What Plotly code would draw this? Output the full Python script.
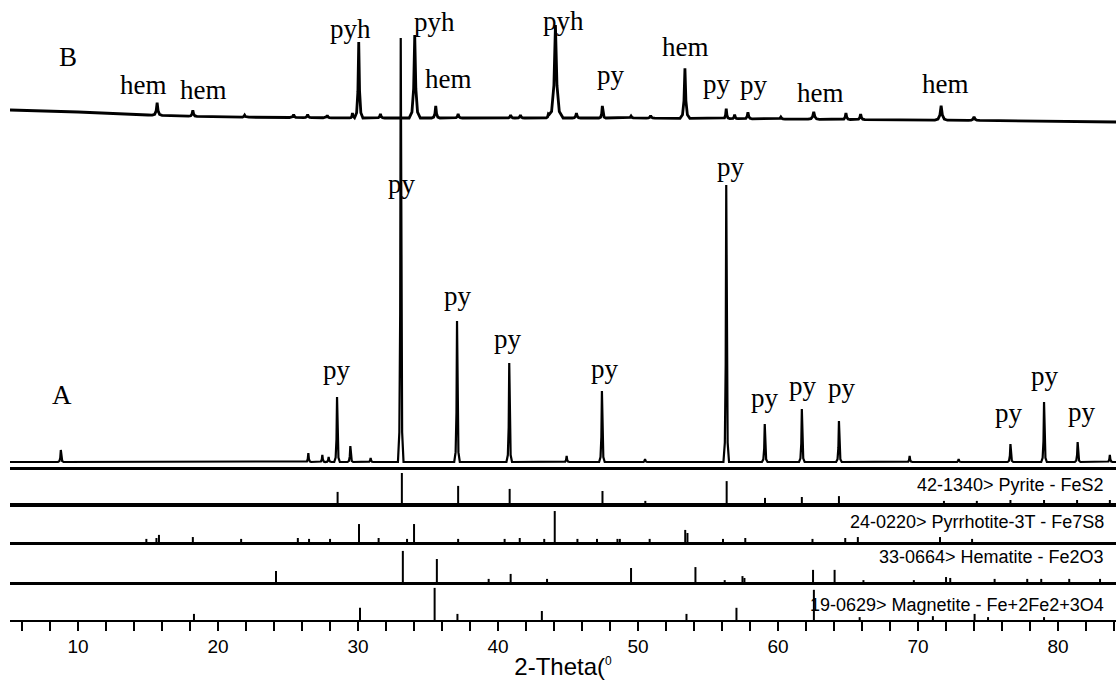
import numpy as np
import plotly.graph_objects as go

# ---------------- data ----------------
X_RANGE = [5.14, 84.14]

# Pattern A : peak positions (2-theta, deg), heights above baseline (a.u.)
A_PEAK_POS = [8.77, 26.45, 27.45, 27.9, 28.5, 29.45, 30.9, 33.05, 37.07, 40.8,
              44.9, 47.42, 50.5, 56.3, 59.05, 61.7, 64.35, 69.4, 72.9, 76.6,
              79.0, 81.4, 83.7]
A_PEAK_HEIGHT = [12, 9, 7, 5, 65, 16, 4, 424, 141, 99,
                 6, 71, 3, 277, 38, 53, 41, 6, 3, 18,
                 60, 20, 7]
A_PEAK_HALFWIDTH = [0.2] * len(A_PEAK_POS)
A_BASE_POS = [5.14, 84.14]
A_BASE_LEVEL = [5, 5]

# Pattern B : peak positions, heights above baseline (a.u.)
B_PEAK_POS = [15.65, 18.2, 21.9, 25.4, 26.4, 27.8, 29.6, 30.05, 31.6, 34.05,
              35.55, 37.15, 40.9, 41.6, 43.6, 44.1, 45.6, 47.45, 49.5, 50.9,
              53.35, 56.3, 56.9, 57.85, 60.2, 62.55, 64.85, 65.9, 71.65, 74.0]
B_PEAK_HEIGHT = [12.5, 6, 2, 3, 3, 2.5, 5, 76, 4, 83,
                 12, 4, 3, 3, 3, 93, 5, 12, 2, 2.5,
                 50, 10, 4, 6.5, 2, 7.5, 6.5, 5.5, 14.5, 3.5]
B_PEAK_HALFWIDTH = [0.35, 0.3, 0.3, 0.3, 0.3, 0.3, 0.2, 0.3, 0.3, 0.4,
                    0.3, 0.3, 0.3, 0.3, 0.3, 0.55, 0.3, 0.25, 0.3, 0.3,
                    0.35, 0.25, 0.25, 0.3, 0.3, 0.4, 0.3, 0.3, 0.45, 0.4]
B_BASE_POS = [5.14, 10, 15, 20, 30, 40, 50, 60, 70, 80, 84.14]
B_BASE_LEVEL = [357, 355, 352, 350, 349, 349, 349, 348, 347, 346, 345]

# Reference stick patterns (2-theta, relative intensity)
PYRITE_POS = [28.54, 33.13, 37.15, 40.83, 47.46, 50.52, 56.33, 59.07, 61.7,
              64.35, 71.85, 74.2, 76.6, 79.0, 81.36, 83.7]
PYRITE_INT = [37, 100, 57, 47, 40, 7, 73, 17, 20, 23, 7, 7, 10, 10, 10, 10]

PYRRHOTITE_POS = [14.88, 15.6, 15.78, 18.2, 21.65, 25.7, 26.5, 28.0, 30.07,
                  31.47, 33.5, 34.0, 37.15, 40.47, 41.55, 43.3, 44.05, 45.67,
                  47.07, 48.53, 48.7, 50.83, 53.37, 53.53, 56.07, 57.66,
                  62.46, 64.8, 65.7, 71.57, 73.86]
PYRRHOTITE_INT = [10, 13, 23, 16, 10, 13, 10, 10, 58, 13, 10, 58, 10, 10, 13,
                  10, 100, 10, 10, 10, 10, 10, 39, 29, 10, 13, 10, 13, 16, 16,
                  10]

HEMATITE_POS = [24.14, 33.2, 35.63, 39.33, 40.9, 43.5, 49.5, 54.1, 56.19,
                57.46, 57.6, 62.5, 64.04, 66.1, 69.7, 72.0, 72.3, 75.47,
                77.8, 78.8, 80.8, 83.0]
HEMATITE_INT = [35, 100, 74, 10, 26, 10, 45, 48, 6, 19, 13, 39, 39, 6, 6, 16,
                13, 10, 10, 10, 10, 10]

MAGNETITE_POS = [18.28, 30.14, 35.47, 37.1, 43.13, 53.46, 57.03, 62.56, 65.83,
                 71.06, 74.04, 75.0, 79.0]
MAGNETITE_INT = [19, 38, 100, 19, 28, 19, 38, 94, 9, 12, 19, 9, 9]

PANEL_NAMES = ["42-1340> Pyrite - FeS2",
               "24-0220> Pyrrhotite-3T - Fe7S8",
               "33-0664> Hematite - Fe2O3",
               "19-0629> Magnetite - Fe+2Fe2+3O4"]

# Phase labels in the main panel: text, 2-theta, intensity (a.u.)
LABEL_TEXT = ["B", "A", "hem", "hem", "pyh", "pyh", "hem", "pyh", "py", "hem",
              "py", "py", "hem", "hem",
              "py", "py", "py", "py", "py", "py", "py", "py", "py", "py", "py",
              "py"]
LABEL_X = [9.29, 8.86, 14.71, 18.93, 29.43, 35.43, 36.43, 44.64, 48.07, 53.36,
           55.64, 58.29, 63.0, 71.93,
           33.14, 56.64, 37.14, 40.71, 28.5, 47.64, 59.07, 61.79, 64.57, 76.5,
           79.07, 81.71]
LABEL_Y = [410, 72, 382, 377, 438, 445, 388, 446, 392, 420,
           383, 382, 374, 383,
           283, 300, 171, 128, 97, 98, 69, 81, 79, 54, 91, 55]

# ---------------- drawing helpers (style) ----------------
SHAPE_DX = np.array([-1.0, -0.5, -0.2, 0.0, 0.2, 0.5, 1.0])
SHAPE_DY = np.array([0.0, 0.07, 0.35, 1.0, 0.35, 0.07, 0.0])


def pattern_line(pos, height, halfw, base_x, base_y):
    xs = set(base_x)
    for p, w in zip(pos, halfw):
        for d in SHAPE_DX:
            xs.add(p + d * w)
    xs = np.array(sorted(v for v in xs if X_RANGE[0] <= v <= X_RANGE[1]))
    ys = np.interp(xs, base_x, base_y)
    for p, h, w in zip(pos, height, halfw):
        ys = ys + h * np.interp(xs, p + SHAPE_DX * w, SHAPE_DY, left=0, right=0)
    return xs, ys


def sticks(pos, inten):
    xs, ys = [], []
    for p, v in zip(pos, inten):
        xs += [p, p, None]
        ys += [0, v, None]
    return xs, ys


BLACK = "#000000"
fig = go.Figure()

ax, ay = pattern_line(A_PEAK_POS, A_PEAK_HEIGHT, A_PEAK_HALFWIDTH, A_BASE_POS, A_BASE_LEVEL)
bx, by = pattern_line(B_PEAK_POS, B_PEAK_HEIGHT, B_PEAK_HALFWIDTH, B_BASE_POS, B_BASE_LEVEL)
fig.add_trace(go.Scatter(x=ax, y=ay, mode="lines", line=dict(color=BLACK, width=2.2),
                         xaxis="x", yaxis="y", showlegend=False, hoverinfo="skip"))
fig.add_trace(go.Scatter(x=bx, y=by, mode="lines", line=dict(color=BLACK, width=2.8),
                         xaxis="x", yaxis="y", showlegend=False, hoverinfo="skip"))

stick_sets = [(PYRITE_POS, PYRITE_INT), (PYRRHOTITE_POS, PYRRHOTITE_INT),
              (HEMATITE_POS, HEMATITE_INT), (MAGNETITE_POS, MAGNETITE_INT)]
for i, (p, v) in enumerate(stick_sets):
    sx, sy = sticks(p, v)
    fig.add_trace(go.Scatter(x=sx, y=sy, mode="lines", line=dict(color=BLACK, width=2),
                             xaxis="x%d" % (i + 2), yaxis="y%d" % (i + 2),
                             showlegend=False, hoverinfo="skip", connectgaps=False))

# ---------------- layout ----------------
PLOT_H = 620.0  # pixel height of plotting area


def dom(top_px, bottom_px):
    return [(PLOT_H - bottom_px) / PLOT_H, (PLOT_H - top_px) / PLOT_H]


Y_DOMAINS = [dom(0, 467), dom(470, 503), dom(507, 542), dom(545, 582), dom(585, 620)]
Y_RANGES = [[0, 467], [0, 110], [0, 113], [0, 119], [0, 109]]
PANEL_LABEL_Y = [60, 64, 80, 47]

LINE_W = 1.6
layout = dict(
    width=1116, height=683,
    margin=dict(l=10, r=0, t=0, b=63),
    paper_bgcolor="white", plot_bgcolor="white",
    showlegend=False,
    template="none",
)
for i in range(5):
    xk = "xaxis" if i == 0 else "xaxis%d" % (i + 1)
    yk = "yaxis" if i == 0 else "yaxis%d" % (i + 1)
    xa = dict(domain=[0, 1], anchor="y" if i == 0 else "y%d" % (i + 1),
              range=X_RANGE, showline=True, linecolor=BLACK, linewidth=LINE_W,
              mirror=(i > 0), showgrid=False, zeroline=False, ticks="",
              showticklabels=False, automargin=False, fixedrange=True)
    if i > 0:
        xa["matches"] = "x"
    if i == 4:
        xa.update(ticks="outside", ticklen=9, tickwidth=1.5, tickcolor=BLACK,
                  tickmode="linear", tick0=0, dtick=10, showticklabels=True,
                  tickfont=dict(family="Liberation Sans, Arial", size=19, color=BLACK),
                  minor=dict(ticks="outside", ticklen=9, tickwidth=1.5,
                             tickcolor=BLACK, tick0=0, dtick=2, showgrid=False),
                  title=dict(text="2-Theta(<sup><span style='font-size:12px'>0</span></sup>",
                             standoff=2,
                             font=dict(family="Liberation Sans, Arial", size=24, color=BLACK)))
    layout[xk] = xa
    layout[yk] = dict(domain=Y_DOMAINS[i], range=Y_RANGES[i], visible=False,
                      anchor="x" if i == 0 else "x%d" % (i + 1), fixedrange=True)

annotations = []
for t, x, y in zip(LABEL_TEXT, LABEL_X, LABEL_Y):
    annotations.append(dict(text=t, x=x, y=y, xref="x", yref="y", showarrow=False,
                            xanchor="center", yanchor="middle",
                            font=dict(family="Liberation Serif, Times New Roman", size=27,
                                      color=BLACK)))
for i, (name, yv) in enumerate(zip(PANEL_NAMES, PANEL_LABEL_Y)):
    annotations.append(dict(text=name, x=83.43, y=yv, xref="x%d" % (i + 2),
                            yref="y%d" % (i + 2), showarrow=False,
                            xanchor="right", yanchor="middle",
                            font=dict(family="Liberation Sans, Arial", size=18, color=BLACK)))
layout["annotations"] = annotations

fig.update_layout(**layout)
fig.write_html("out.html", config={"displayModeBar": False, "staticPlot": True},
               post_script="document.body.style.margin='0';")
